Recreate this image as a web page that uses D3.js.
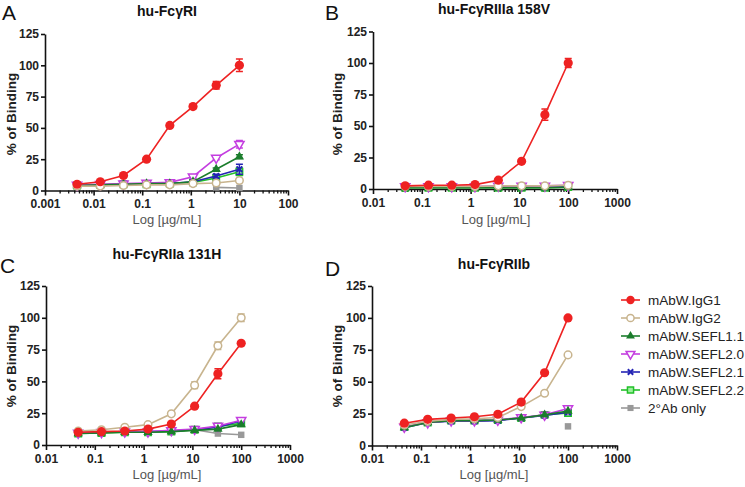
<!DOCTYPE html>
<html><head><meta charset="utf-8">
<script src="https://cdn.jsdelivr.net/npm/d3@7"></script>
<style>
body{margin:0;background:#fff;}
svg{font-family:"Liberation Sans",Arial,sans-serif;}
</style></head>
<body><svg id="c" width="745" height="487"></svg>
<script>
// ---------- DATA ----------
const seriesNames = ["mAbW.IgG1","mAbW.IgG2","mAbW.SEFL1.1","mAbW.SEFL2.0","mAbW.SEFL2.1","mAbW.SEFL2.2","2°Ab only"];
const seriesColors = ["#ee2222","#c8b48e","#1b7d2c","#c43ee0","#2424b4","#22c02a","#999999"];
const seriesShapes = ["circle","openCircle","triangle","openTriDown","cross","openSquare","square"];

const concA = [0.00457, 0.0137, 0.0412, 0.123, 0.370, 1.11, 3.33, 10];
const concBCD = [0.0457, 0.137, 0.412, 1.23, 3.70, 11.1, 33.3, 100];

const xTicksA = [0.001, 0.01, 0.1, 1, 10, 100];
const xTicksBCD = [0.01, 0.1, 1, 10, 100, 1000];
const yTicks = [0, 25, 50, 75, 100, 125];

const titles = ["hu-FcγRI","hu-FcγRIIIa 158V","hu-FcγRIIa 131H","hu-FcγRIIb"];
const letters = ["A","B","C","D"];

// values per panel, rows in legend order
const valuesA = [
  [5, 7, 12, 25, 52, 67, 84, 100],
  [3.5, 3.5, 4, 4.5, 4.5, 5.5, 6, 8],
  [4, 4.5, 5, 5.5, 5.5, 7, 17, 27],
  [4.5, 5, 5.5, 6, 6.5, 11, 26, 37],
  [4, 4.5, 5, 5.5, 5.5, 7, 11.5, 17],
  [4, 4.5, 5, 5, 5.5, 6.5, 10, 15],
  [null, null, null, null, null, null, 2.5, 2]
];
const errorsA = [
  [0, 0, 0, 0, 1, 1.5, 3, 5],
  [0, 0, 0, 0, 0, 0, 0, 1],
  [0, 0, 0, 0, 0, 0, 1, 1.5],
  [0, 0, 0, 0, 0, 1, 1.5, 3],
  [0, 0, 0, 0, 0, 0, 1.5, 4],
  [0, 0, 0, 0, 0, 0, 1, 3],
  [0, 0, 0, 0, 0, 0, 0, 0]
];
const valuesB = [
  [2.5, 3, 3, 3.5, 7, 22, 59, 100],
  [2, 2, 2, 2, 2.5, 2.5, 2.5, 3],
  [1, 1, 1, 1, 1, 1, 1, 1.5],
  [2, 2, 2, 2, 2.5, 2.5, 2.5, 3],
  [1.5, 1.5, 1.5, 1.5, 1.5, 1.5, 1.5, 2],
  [1, 1, 1, 1, 1, 1, 1, 1.5],
  [null, null, null, null, 2.5, 2.5, 2.5, 2.5]
];
const errorsB = [
  [0, 0, 0, 0, 0, 0, 4.5, 3.5],
  [0, 0, 0, 0, 0, 0, 0, 0],
  [0, 0, 0, 0, 0, 0, 0, 0],
  [0, 0, 0, 0, 0, 0, 0, 0],
  [0, 0, 0, 0, 0, 0, 0, 0],
  [0, 0, 0, 0, 0, 0, 0, 0],
  [0, 0, 0, 0, 0, 0, 0, 0]
];
const valuesC = [
  [10, 10.5, 11, 12.5, 16.5, 30.5, 56, 80],
  [11, 12, 14, 16, 24.5, 47, 78, 100],
  [9, 9.5, 10, 10, 10.5, 11.5, 12.5, 16],
  [9.5, 10, 10.5, 10.5, 11.5, 12.5, 15, 19.5],
  [9.5, 10, 10.5, 10.5, 11, 12, 14, 19],
  [9, 9.5, 10, 10, 10.5, 12, 14.5, 17],
  [null, null, null, null, null, 12, 9, 8]
];
const errorsC = [
  [0, 0, 0, 0, 0, 1, 4, 1],
  [0, 0, 0, 0, 0, 2.5, 3, 3],
  [0, 0, 0, 0, 0, 0, 0, 0],
  [0, 0, 0, 0, 0, 0, 0, 0],
  [0, 0, 0, 0, 0, 0, 0, 0],
  [0, 0, 0, 0, 0, 0, 0, 0],
  [0, 0, 0, 0, 0, 0, 0, 0]
];
const valuesD = [
  [17.5, 20.5, 21.5, 22.5, 24.5, 34, 57, 100],
  [16, 19, 20.5, 21, 22, 30.5, 41, 71],
  [14, 18, 19.5, 19.5, 20, 21.5, 24, 27],
  [14.5, 18, 19.5, 19.5, 20, 22, 24, 29],
  [14, 18, 19, 19, 19.5, 21.5, 23.5, 26],
  [14.5, 18, 19.5, 19.5, 20, 21.5, 24, 25.5],
  [null, null, null, null, null, null, null, 15]
];
const errorsD = [
  [0, 0, 0, 0, 0, 0, 0, 0],
  [0, 0, 0, 0, 0, 0, 0, 0],
  [0, 0, 0, 0, 0, 0, 0, 0],
  [0, 0, 0, 0, 0, 0, 0, 0],
  [0, 0, 0, 0, 0, 0, 0, 0],
  [0, 0, 0, 0, 0, 0, 0, 0],
  [0, 0, 0, 0, 0, 0, 0, 0]
];

// ---------- LAYOUT ----------
const panels = [
  {conc: concA, vals: valuesA, errs: errorsA, xt: xTicksA, xd:[0.001,100], xr:[45,288], yr:[190.5,34], title:[167,16], letter:[2,20], ylab:[11,114], xlab:[167,224]},
  {conc: concBCD, vals: valuesB, errs: errorsB, xt: xTicksBCD, xd:[0.01,1000], xr:[373,617], yr:[189,31.5], title:[494,14], letter:[325,20], ylab:[337,114], xlab:[496,224]},
  {conc: concBCD, vals: valuesC, errs: errorsC, xt: xTicksBCD, xd:[0.01,1000], xr:[46,290], yr:[445,286], title:[167,259], letter:[0,273], ylab:[11,366], xlab:[167,479]},
  {conc: concBCD, vals: valuesD, errs: errorsD, xt: xTicksBCD, xd:[0.01,1000], xr:[372,617], yr:[445.5,286], title:[494,269], letter:[325,276], ylab:[337,366], xlab:[494,479]}
];

const svg = d3.select("#c");

function drawMarker(g, shape, color, cx, cy, s) {
  const sym = {
    circle: d3.symbolCircle, openCircle: d3.symbolCircle, triangle: d3.symbolTriangle,
    openTriDown: d3.symbolTriangle, cross: d3.symbolCross, openSquare: d3.symbolSquare, square: d3.symbolSquare
  }[shape];
  if (shape === "cross") {
    const r = s*0.75;
    g.append("path").attr("d", `M${cx-r},${cy-r}L${cx+r},${cy+r}M${cx-r},${cy+r}L${cx+r},${cy-r}`)
      .attr("stroke", color).attr("stroke-width", 2).attr("fill","none");
    return;
  }
  const size = shape.includes("ircle") ? Math.PI*s*s : (shape.includes("Square")||shape==="square") ? (1.7*s)*(1.7*s) : 2.0*s*s*1.3;
  const p = g.append("path").attr("d", d3.symbol(sym, size)())
    .attr("transform", `translate(${cx},${cy})${shape==="openTriDown"?" rotate(180)":""}`);
  if (shape.startsWith("open")) {
    p.attr("fill", shape==="openSquare" ? "#9ef09e" : "#fff").attr("stroke", color).attr("stroke-width", 1.5);
  } else {
    p.attr("fill", color);
  }
}

panels.forEach((P, pi) => {
  const x = d3.scaleLog().domain(P.xd).range(P.xr);
  const y = d3.scaleLinear().domain([0,125]).range(P.yr);
  const g = svg.append("g");

  // minor ticks
  const minor = [];
  for (let e = Math.log10(P.xd[0]); e < Math.log10(P.xd[1]); e++) {
    for (let k = 2; k <= 9; k++) minor.push(k*Math.pow(10,e));
  }
  g.append("g").attr("transform", `translate(0,${P.yr[0]})`)
    .call(d3.axisBottom(x).tickValues(minor).tickSize(3).tickFormat(""))
    .call(a => a.select(".domain").remove())
    .call(a => a.selectAll("line").attr("stroke","#111").attr("stroke-width",1.3));

  const xa = g.append("g").attr("transform", `translate(0,${P.yr[0]})`)
    .call(d3.axisBottom(x).tickValues(P.xt).tickSize(5).tickSizeOuter(0).tickFormat(d3.format("~g")));
  xa.select(".domain").attr("stroke","#111").attr("stroke-width",1.6);
  xa.selectAll("line").attr("stroke","#111").attr("stroke-width",1.6);
  xa.selectAll("text").attr("font-size",12).attr("font-weight","bold").attr("fill","#222").attr("dy","0.85em").attr("y",7.5)
    .attr("font-family","'Liberation Sans',Arial,sans-serif");

  const ya = g.append("g").attr("transform", `translate(${P.xr[0]},0)`)
    .call(d3.axisLeft(y).tickValues(yTicks).tickSize(4).tickSizeOuter(0));
  ya.select(".domain").attr("stroke","#111").attr("stroke-width",1.6);
  ya.selectAll("line").attr("stroke","#111").attr("stroke-width",1.6);
  ya.selectAll("text").attr("font-size",12).attr("font-weight","bold").attr("fill","#222").attr("x",-6)
    .attr("font-family","'Liberation Sans',Arial,sans-serif");

  // titles and labels
  svg.append("text").attr("x",P.title[0]).attr("y",P.title[1]).attr("text-anchor","middle")
    .attr("font-size",14).attr("font-weight","bold").attr("fill","#111").text(titles[pi]);
  svg.append("text").attr("x",P.letter[0]).attr("y",P.letter[1])
    .attr("font-size",21).attr("fill","#111").text(letters[pi]);
  svg.append("text").attr("transform",`translate(${P.ylab[0]},${P.ylab[1]}) rotate(-90)`).attr("text-anchor","middle")
    .attr("font-size",13.5).attr("font-weight","bold").attr("fill","#222").attr("dy","0.35em").text("% of Binding");
  svg.append("text").attr("x",P.xlab[0]).attr("y",P.xlab[1]).attr("text-anchor","middle")
    .attr("font-size",13).attr("fill","#555").text("Log [µg/mL]");

  // series, draw reverse so IgG1 on top
  for (let si = P.vals.length-1; si >= 0; si--) {
    const vals = P.vals[si], errs = P.errs[si], color = seriesColors[si];
    const pts = P.conc.map((c,i) => ({c, v: vals[i], e: errs[i]})).filter(d => d.v !== null);
    const sg = g.append("g");
    sg.append("path").datum(pts)
      .attr("d", d3.line().x(d => x(d.c)).y(d => y(d.v)))
      .attr("fill","none").attr("stroke",color).attr("stroke-width",1.6);
    pts.forEach(d => {
      if (d.e > 0) {
        const cx = x(d.c), y1 = y(d.v - d.e), y2 = y(d.v + d.e);
        sg.append("path").attr("d",`M${cx},${y1}L${cx},${y2}M${cx-3.5},${y1}L${cx+3.5},${y1}M${cx-3.5},${y2}L${cx+3.5},${y2}`)
          .attr("stroke",color).attr("stroke-width",1.5).attr("fill","none");
      }
      drawMarker(sg, seriesShapes[si], color, x(d.c), y(d.v), si===0 ? 4.6 : 3.8);
    });
  }
});

// legend
const legY0 = 300, legStep = 18;
seriesNames.forEach((n, i) => {
  const yy = legY0 + i*legStep;
  const lg = svg.append("g");
  lg.append("line").attr("x1",621).attr("x2",640).attr("y1",yy).attr("y2",yy)
    .attr("stroke",seriesColors[i]).attr("stroke-width",1.6);
  drawMarker(lg, seriesShapes[i], seriesColors[i], 630.5, yy, i===0 ? 4.2 : 3.6);
  lg.append("text").attr("x",648).attr("y",yy).attr("dy","0.36em")
    .attr("font-size",13.5).attr("fill","#222").text(n);
});
</script></body></html>
